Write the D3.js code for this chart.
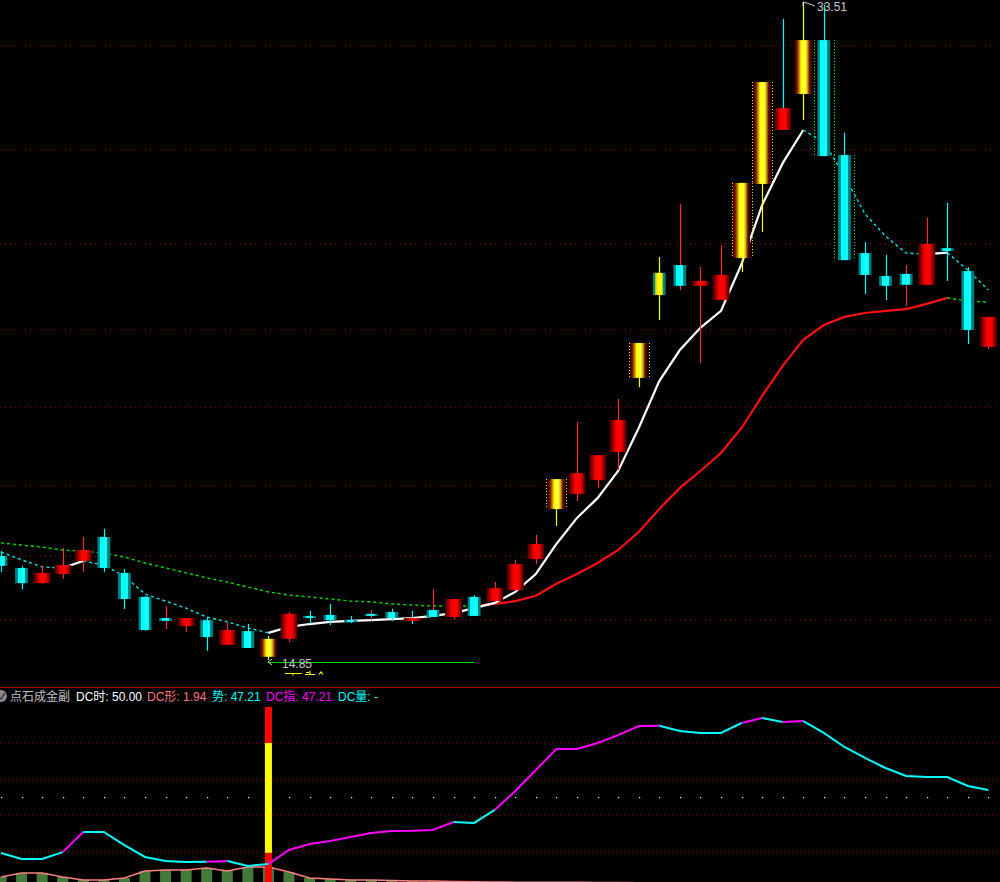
<!DOCTYPE html>
<html><head><meta charset="utf-8">
<script src="https://cdn.jsdelivr.net/npm/d3@7"></script>
<style>html,body{margin:0;padding:0;background:#000;overflow:hidden}svg{display:block}</style>
</head><body><svg id="c" width="1000" height="882"></svg>
<script>
// ---------- DATA ----------
const opens  = [17.80,17.46,17.03,17.29,17.66,18.34,17.32,16.64,16.04,15.81,15.98,15.28,15.67,14.94,15.45,16.10,16.13,15.98,16.16,16.21,15.96,16.27,16.07,16.64,16.52,16.83,17.71,19.13,19.56,19.95,20.75,22.85,25.83,26.05,25.46,25.06,26.25,28.35,29.88,30.90,32.43,29.17,26.39,25.74,25.80,25.49,26.53,25.88,23.73];
const highs  = [17.94,17.52,17.52,18.03,18.34,18.57,17.43,16.66,16.38,16.04,16.07,15.93,15.87,15.53,16.21,16.24,16.44,16.10,16.27,16.30,16.24,16.86,16.58,16.69,17.06,17.69,18.40,19.98,21.60,20.66,22.25,23.84,26.28,27.78,26.00,26.62,28.38,31.24,33.03,33.51,33.43,29.80,26.70,26.34,26.05,27.39,27.81,25.99,24.58];
const lows   = [17.35,16.86,17.02,17.15,17.35,17.35,16.30,15.68,15.73,15.64,15.11,15.28,15.19,14.85,15.36,15.87,15.84,15.90,15.98,15.96,15.87,16.07,16.01,16.10,16.52,16.83,17.57,18.65,19.36,19.73,20.24,22.59,24.49,25.34,23.27,25.06,25.85,26.99,29.88,30.16,29.14,26.19,25.23,25.06,24.89,25.49,25.60,23.81,23.67];
const closes = [17.52,17.03,17.32,17.54,17.97,17.46,16.58,15.70,15.96,16.04,15.50,15.70,15.19,15.45,16.16,16.04,15.98,15.93,16.10,16.04,16.04,16.07,16.58,16.10,16.89,17.57,18.14,19.98,20.15,20.66,21.66,23.84,25.20,25.46,25.60,25.77,28.38,31.24,30.50,32.43,29.14,26.19,25.77,25.46,25.49,26.65,26.45,24.21,24.58];
// highlighted (yellow) candles and signal frames
const hotCandles   = [13,27,31,32,36,37,39];
const buyFrames    = [27,31,36,37];
const sellFrames   = [40,41];
// moving averages
const maShort = [17.91,17.69,17.49,17.46,17.66,17.54,17.23,16.72,16.52,16.32,16.07,15.93,15.76,15.62,15.79,15.87,15.93,15.96,15.98,16.01,16.04,16.10,16.18,16.32,16.47,16.78,17.29,18.14,18.88,19.44,20.21,21.43,22.76,23.64,24.27,24.75,26.08,27.75,28.94,29.88,29.54,28.58,27.50,26.87,26.39,26.36,26.40,25.91,25.34];
const maLong  = [18.17,18.11,18.05,17.97,17.94,17.88,17.77,17.60,17.46,17.32,17.18,17.06,16.92,16.78,16.69,16.64,16.58,16.52,16.50,16.44,16.41,16.38,16.38,16.38,16.44,16.52,16.67,17.01,17.29,17.60,17.97,18.48,19.13,19.73,20.21,20.72,21.43,22.34,23.19,23.93,24.35,24.58,24.69,24.75,24.80,24.95,25.12,25.03,25.00];
const priceGrid = [32.29,29.34,26.68,24.24,22.03,19.81,17.80,16.01];
const supportLine = {from:13, to:23, price:14.80};
// sub-indicator
const dcIndex = [18.9,15.6,15.6,19.4,30.6,30.6,23.3,16.7,14.4,13.9,14.0,14.4,11.7,12.8,20.6,23.9,25.6,27.8,30.0,31.1,31.2,31.7,36.1,35.6,42.8,53.3,65.0,76.7,76.7,80.0,84.4,89.4,89.6,86.7,85.6,85.6,91.1,93.9,91.7,92.2,85.6,77.8,71.7,66.1,61.7,61.1,61.1,56.1,53.9];
const dcStrong = [4,11,14,15,16,17,18,19,20,21,22,25,26,27,28,29,30,31,32,37,39];
const dcShape = [5.6,7.8,7.8,5.6,3.9,3.9,5.0,8.9,9.4,9.4,10.6,8.9,11.1,11.1,8.3,5.0,4.4,3.9,3.9,3.6,3.3,3.3,3.0,2.9,2.8,2.7,2.7,2.6,2.6,2.5,2.5,2.4,2.4,2.4,2.3,2.3,2.3,2.2,2.2,2.2,2.1,2.1,2.1,2.0,2.0,2.0,2.0,1.95,1.94];
const signalBar = {index:13, levels:[0,19,80,100]};
const indGrid = [20,40,60,80];
const indMid = 50;
const panelTitle = "点石成金副";
const headerNames  = ["DC时","DC形","势","DC指","DC量"];
const headerValues = ["50.00","1.94","47.21","47.21","-"];

// ---------- SETUP ----------
const svg = d3.select("#c");
const W = 1000, H = 882;
svg.append("rect").attr("width",W).attr("height",H).attr("fill","#000");
const N = closes.length;
const x = d3.scaleLinear().domain([0, N-1]).range([1, 988.4]);
const yP = d3.scaleLinear().domain([14.85, 33.51]).range([660, 2]);
const yI = d3.scaleLinear().domain([0,100]).range([887, 707]);
const FONT = "'Liberation Sans', Arial, 'Noto Sans CJK SC', sans-serif";

// gradients
const defs = svg.append("defs");
function grad(id, stops){
  const g = defs.append("linearGradient").attr("id",id).attr("x1","0").attr("x2","1").attr("y1","0").attr("y2","0");
  stops.forEach(s=>g.append("stop").attr("offset",s[0]).attr("stop-color",s[1]));
}
grad("gRed",[[0,"#3a0000"],[0.15,"#800000"],[0.3,"#d00000"],[0.42,"#ff0000"],[0.68,"#ff0000"],[0.82,"#b00000"],[0.92,"#700000"],[1,"#3a0000"]]);
grad("gCyan",[[0,"#007878"],[0.2,"#008b8b"],[0.2,"#00ffff"],[0.6,"#00ffff"],[0.6,"#30ffff"],[0.78,"#00f0f0"],[0.78,"#008b8b"],[1,"#007070"]]);
grad("gYelUp",[[0,"#400000"],[0.12,"#800000"],[0.25,"#b08000"],[0.38,"#ffff00"],[0.62,"#ffff40"],[0.75,"#c0b000"],[0.88,"#700000"],[1,"#400000"]]);
grad("gYelDn",[[0,"#007878"],[0.2,"#008b8b"],[0.2,"#c0c000"],[0.38,"#ffff00"],[0.65,"#ffff00"],[0.8,"#a0a000"],[0.8,"#008b8b"],[1,"#007070"]]);

// ---------- MAIN PANEL ----------
const main = svg.append("g");
main.selectAll("line.pg").data(priceGrid).enter().append("line")
  .attr("x1",0).attr("x2",W).attr("y1",d=>Math.round(yP(d))+0.5).attr("y2",d=>Math.round(yP(d))+0.5)
  .attr("stroke","#8a0000").attr("stroke-dasharray","1,4");

function runs(vals, isUp){
  const out=[];
  for(let i=1;i<vals.length;i++){
    const up = isUp(i);
    if(out.length && out[out.length-1].up===up) out[out.length-1].idx.push(i);
    else out.push({up, idx:[i-1,i]});
  }
  return out;
}
function drawMA(vals, upStyle, dnStyle){
  const line = d3.line().x(i=>x(i)).y(i=>yP(vals[i]));
  runs(vals, i=>vals[i]>vals[i-1]).forEach(r=>{
    const s = r.up?upStyle:dnStyle;
    main.append("path").attr("d",line(r.idx)).attr("fill","none")
      .attr("stroke",s.c).attr("stroke-width",s.w).attr("stroke-dasharray",s.d||null);
  });
}
drawMA(maLong,{c:"#ff1010",w:2.2},{c:"#00e000",w:1.4,d:"3,3"});
drawMA(maShort,{c:"#ffffff",w:2.2},{c:"#00e8e8",w:1.4,d:"3,3"});

// candles
const hotSet = new Set(hotCandles);
const cg = main.append("g");
d3.range(N).forEach(i=>{
  const cx = x(i), o=opens[i], c=closes[i];
  const up = c>o;
  const hot = hotSet.has(i);
  const prev = i>0?closes[i-1]:o;
  const wickCol = hot ? "#ffff00" : (c>prev ? "#ff3030" : "#00ffff");
  const wx = Math.round(cx)+0.5;
  cg.append("line").attr("x1",wx).attr("x2",wx).attr("y1",yP(highs[i])).attr("y2",yP(lows[i]))
    .attr("stroke",wickCol).attr("stroke-width",1.2);
  const w = up ? 17 : 13;
  const top = yP(Math.max(o,c)), bot = yP(Math.min(o,c));
  const h = Math.max(2, bot-top);
  const fill = hot ? (up?"url(#gYelUp)":"url(#gYelDn)") : (up?"url(#gRed)":"url(#gCyan)");
  cg.append("rect").attr("x",cx-w/2).attr("y",top).attr("width",w).attr("height",h).attr("fill",fill);
});
function frames(list,col){
  list.forEach(i=>{
    const cx=x(i), top=yP(Math.max(opens[i],closes[i])), bot=yP(Math.min(opens[i],closes[i]));
    [-10,10].forEach(dx=>{
      cg.append("line").attr("x1",Math.round(cx+dx)+0.5).attr("x2",Math.round(cx+dx)+0.5)
        .attr("y1",top).attr("y2",bot).attr("stroke",col).attr("stroke-width",1).attr("stroke-dasharray","1,2");
    });
  });
}
frames(buyFrames,"#ffff00");
frames(sellFrames,"#00ff00");

// support line & extreme labels
main.append("line").attr("x1",x(supportLine.from)).attr("x2",x(supportLine.to))
  .attr("y1",Math.round(yP(supportLine.price))+0.5).attr("y2",Math.round(yP(supportLine.price))+0.5)
  .attr("stroke","#00e000").attr("stroke-width",1);
const hiIdx = d3.maxIndex(highs), loIdx = d3.minIndex(lows);
const hx = Math.round(x(hiIdx)), hy = yP(highs[hiIdx]);
main.append("path").attr("d",`M${hx},${hy+4} L${hx},${hy} L${hx+4},${hy+1} L${hx+12},${hy+4}`)
  .attr("fill","none").attr("stroke","#c8c8c8").attr("stroke-width",1);
main.append("text").attr("x",hx+14).attr("y",hy+9).attr("fill","#c8c8c8")
  .attr("font-family",FONT).attr("font-size",12).text(highs[hiIdx].toFixed(2));
const lx = Math.round(x(loIdx)), ly = yP(lows[loIdx]);
main.append("path").attr("d",`M${lx+4},${ly-1} L${lx},${ly+2} L${lx+4},${ly+5}`)
  .attr("fill","none").attr("stroke","#c8c8c8").attr("stroke-width",1);
main.append("text").attr("x",lx+14).attr("y",ly+8).attr("fill","#c8c8c8")
  .attr("font-family",FONT).attr("font-size",12).text(lows[loIdx].toFixed(2));
// small yellow marks under the low label
main.append("path")
  .attr("d",`M${lx+17},${ly+13.5}H${lx+34} M${lx+25},${ly+13}V${ly+15.5} M${lx+37},${ly+14.5}H${lx+47} M${lx+42},${ly+11}V${ly+14.5} M${lx+38},${ly+12.5}H${lx+41} M${lx+51},${ly+14.5}L${lx+53},${ly+12}L${lx+55},${ly+14.5}`)
  .attr("fill","none").attr("stroke","#ffff00").attr("stroke-width",1.2);

// ---------- SEPARATOR & HEADER ----------
svg.append("line").attr("x1",0).attr("x2",W).attr("y1",687.5).attr("y2",687.5).attr("stroke","#b00000").attr("stroke-width",1);
svg.append("circle").attr("cx",1).attr("cy",696).attr("r",6).attr("fill","#8a8a8a");
svg.append("path").attr("d","M-2,697 L1,699 L5,693").attr("fill","none").attr("stroke","#3a3a3a").attr("stroke-width",1.5);
const hdr = svg.append("g").attr("font-family",FONT).attr("font-size",12);
hdr.append("text").attr("x",10).attr("y",701).attr("fill","#c0c0c0").text(panelTitle);
const hdrX = [76,147,212,266,338];
const hdrC = ["#ffffff","#ff7878","#00ffff","#ff00ff","#00ffff"];
headerNames.forEach((n,k)=>{
  hdr.append("text").attr("x",hdrX[k]).attr("y",701).attr("fill",hdrC[k]).text(n+": "+headerValues[k]);
});

// ---------- SUB PANEL ----------
const sub = svg.append("g");
sub.selectAll("line.ig").data(indGrid).enter().append("line")
  .attr("x1",0).attr("x2",W).attr("y1",d=>Math.round(yI(d))+0.5).attr("y2",d=>Math.round(yI(d))+0.5)
  .attr("stroke","#8a0000").attr("stroke-dasharray","1,3");
sub.selectAll("rect.mid").data(d3.range(N)).enter().append("rect")
  .attr("x",i=>Math.round(x(i))).attr("y",Math.round(yI(indMid))).attr("width",1.2).attr("height",1.2).attr("fill","#ffffff");

// green bars + salmon line
sub.selectAll("rect.bar").data(d3.range(N)).enter().append("rect")
  .attr("x",i=>x(i)-5.5).attr("width",11)
  .attr("y",i=>yI(dcShape[i])).attr("height",i=>yI(0)-yI(dcShape[i]))
  .attr("fill","#437a3a");
sub.append("path").attr("d",d3.line().x(i=>x(i)).y(i=>yI(dcShape[i]))(d3.range(N)))
  .attr("fill","none").attr("stroke","#ff8080").attr("stroke-width",1.5);

// signal bar
const sb = signalBar, sbCols = ["#ff0000","#ffff00","#ff0000"];
for(let k=0;k<sb.levels.length-1;k++){
  sub.append("rect").attr("x",x(sb.index)-3.5).attr("width",7)
    .attr("y",yI(sb.levels[k+1])).attr("height",yI(sb.levels[k])-yI(sb.levels[k+1])).attr("fill",sbCols[k]);
}

// DC index line
const strongSet = new Set(dcStrong);
const dl = d3.line().x(i=>x(i)).y(i=>yI(dcIndex[i]));
runs(dcIndex, i=>strongSet.has(i)).forEach(r=>{
  sub.append("path").attr("d",dl(r.idx)).attr("fill","none")
    .attr("stroke", r.up?"#ff00ff":"#00ffff").attr("stroke-width",2);
});
</script></body></html>
